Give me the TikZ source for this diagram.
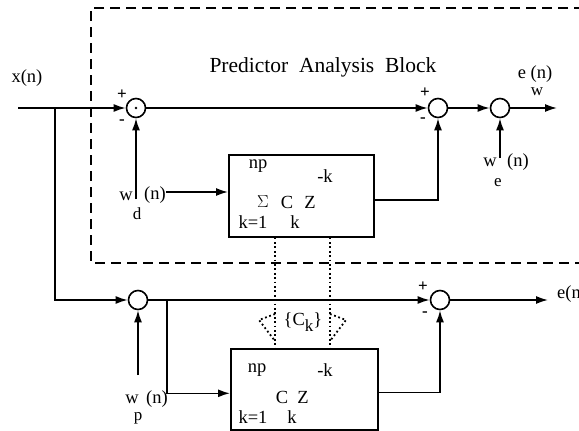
\documentclass[tikz,border=0pt]{standalone}
\usepackage{fontspec}
\setmainfont{Liberation Serif}
\usetikzlibrary{arrows.meta}
\begin{document}
\begin{tikzpicture}[x=1pt,y=-1pt,
  sig/.style={line width=1.6pt,-{Latex[length=12pt,width=8pt]}},
  sumj/.style={circle,draw,line width=1.6pt,minimum size=19pt,inner sep=0pt},
  blk/.style={draw,line width=1.6pt,inner sep=0pt,anchor=north west},
  lbl/.style={font=\fontsize{18.5}{18.5}\selectfont,inner sep=0pt},
  sub/.style={font=\fontsize{17}{17}\selectfont,inner sep=0pt},
  sgn/.style={font=\fontsize{17}{17}\selectfont\bfseries,inner sep=0pt},
  ttl/.style={font=\fontsize{21.5}{22}\selectfont,inner sep=0pt},
  dashbox/.style={line width=1.8pt,dash pattern=on 10pt off 6pt},
  dotline/.style={line width=1.8pt,dash pattern=on 1.8pt off 2.6pt},
]
\path[use as bounding box] (0,0) rectangle (579,431);
\clip (0,0) rectangle (579,431);

% dashed predictor analysis block
\draw[dashbox] (600,8) -- (91,8) -- (91,263) -- (600,263);
\node[ttl] (title) at (323,67) {Predictor\ \ Analysis\ \ Block};

% summing junctions
\node[sumj] (s1) at (136,108) {};
\fill (s1.center) circle (1.3pt);
\node[sumj] (s2) at (438,108) {};
\node[sumj] (s4) at (500,108) {};
\node[sumj] (s3) at (138,300) {};
\node[sumj] (s5) at (440,300) {};

% blocks
\node[blk,minimum width=145pt,minimum height=82pt] (b1) at (228,154) {};
\node[blk,minimum width=147pt,minimum height=81pt] (b2) at (230,348) {};

% coordinates
\coordinate (xin) at (18,108);
\coordinate (br1) at (55,108);
\coordinate (br2) at (55,300);
\coordinate (wd) at (136,199);
\coordinate (wdh) at (166,192);
\coordinate (we) at (500,158);
\coordinate (wp) at (138,375);
\coordinate (br3) at (167,300);
\coordinate (out1) at (557,108);
\coordinate (out2) at (548,300);

% signal connections
\draw[sig] (xin) -- (s1.west);
\draw[sig] (s1.east) -- (s2.west);
\draw[sig] (s2.east) -- (s4.west);
\draw[sig] (s4.east) -- (out1);
\draw[sig] ([yshift=-4pt]b1.east) -| (s2.south);
\draw[sig] (wd) -- (s1.south);
\draw[sig] (wdh) -- (wdh -| b1.west);
\draw[sig] (we) -- (s4.south);
\draw[sig] (br1) -- (br2) -- (s3.west);
\draw[sig] (wp) -- (s3.south);
\draw[sig] (s3.east) -- (s5.west);
\draw[sig] (br3) |- ([yshift=-4pt]b2.west);
\draw[sig] ([yshift=-3pt]b2.east) -| (s5.south);
\draw[sig] (s5.east) -- (out2);

% dotted coefficient transfer
\coordinate (d1a) at ([xshift=47pt]b1.south west);
\coordinate (d2a) at ([xshift=102pt]b1.south west);
\draw[dotline] (d1a) -- (d1a |- b2.north);
\draw[dotline] (d2a) -- (d2a |- b2.north);
\draw[dotline] (275,314) -- (259,320) -- (275,341);
\draw[dotline] (330,314) -- (346,320) -- (330,341);
\node[lbl] (ck) at (303,322) {\{C\raisebox{-6pt}{\fontsize{17}{17}\selectfont k}\}};

% labels
\node[lbl] (xn) at (27,78) {x(n)};
\node[sgn] (p1) at (122,95) {+};
\node[sgn] (m1) at (122,122) {-};
\node[sgn] (p2) at (425,93) {+};
\node[sgn] (m2) at (423,120) {-};
\node[sgn] (p5) at (423,287) {+};
\node[sgn] (m5) at (425,314) {-};

\node[lbl] (wdw) at (126,196) {w};
\node[lbl] (wdn) at (155,195) {(n)};
\node[sub] (wdd) at (137,214) {d};

\node[lbl] (wew) at (490,162) {w};
\node[lbl] (wen) at (518,162) {(n)};
\node[sub] (wee) at (498,183) {e};

\node[lbl] (wpw) at (132,399) {w};
\node[lbl] (wpn) at (157,399) {(n)};
\node[sub] (wpp) at (138,418) {p};

\node[lbl] (ewn) at (535,74) {e (n)};
\node[sub] (eww) at (537,92) {w};
\node[lbl,anchor=west] (en) at (557,294) {e(n)};

% top block contents
\node[lbl] (t1np) at (258,166) {np};
\node[lbl] (t1k) at (325,176) {-k};
\node[lbl] (t1s) at (263,202) {$\Sigma$};
\node[lbl] (t1c) at (287,202) {C};
\node[lbl] (t1z) at (310,202) {Z};
\node[lbl] (t1k1) at (253,222) {k=1};
\node[lbl] (t1kk) at (295,222) {k};

% bottom block contents
\node[lbl] (t2np) at (257,370) {np};
\node[lbl] (t2k) at (325,370) {-k};
\node[lbl] (t2c) at (282,397) {C};
\node[lbl] (t2z) at (303,397) {Z};
\node[lbl] (t2k1) at (253,417) {k=1};
\node[lbl] (t2kk) at (292,417) {k};
\end{tikzpicture}
\end{document}
